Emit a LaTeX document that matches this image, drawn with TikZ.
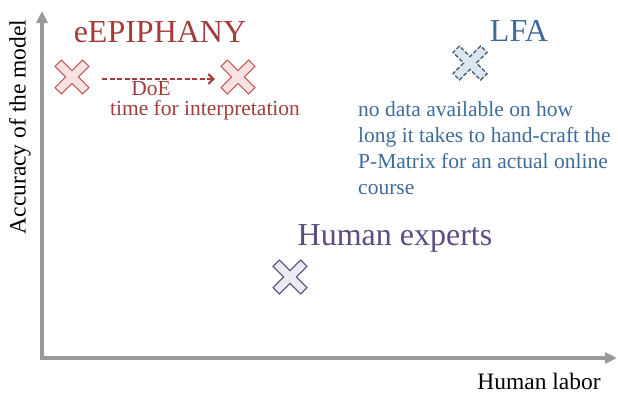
\documentclass[tikz,border=0pt]{standalone}
\usepackage{fontspec}
\setmainfont{Liberation Serif}
\usetikzlibrary{arrows.meta}

\definecolor{axisgray}{HTML}{999999}
\definecolor{epired}{HTML}{A33D3D}
\definecolor{epiline}{HTML}{C25A5A}
\definecolor{epifill}{HTML}{FBE1E1}
\definecolor{lfablue}{HTML}{3F6B9C}
\definecolor{lfaline}{HTML}{48647F}
\definecolor{lfafill}{HTML}{DCE6F1}
\definecolor{humpurple}{HTML}{5E4B80}
\definecolor{humline}{HTML}{57477A}
\definecolor{humfill}{HTML}{EEEAF4}

\tikzset{
  crossmark/.pic={
    \path[pic actions,rotate=45]
      (4.5,4.5) -- (19.5,4.5) -- (19.5,-4.5) -- (4.5,-4.5) -- (4.5,-19.5)
      -- (-4.5,-19.5) -- (-4.5,-4.5) -- (-19.5,-4.5) -- (-19.5,4.5)
      -- (-4.5,4.5) -- (-4.5,19.5) -- (4.5,19.5) -- cycle;
  },
  axis/.style={draw=axisgray,line width=3.2pt},
  doe/.style={draw=epired,line width=1.8pt,dash pattern=on 5pt off 2.5pt},
  big/.style={font=\fontsize{32}{38}\selectfont},
  mid/.style={font=\fontsize{21.5}{26}\selectfont},
  axlabel/.style={font=\fontsize{23.5}{28}\selectfont}
}

\begin{document}
\begin{tikzpicture}[x=1pt,y=-1pt]
  \useasboundingbox (0,0) rectangle (618,394);

  % axes
  \coordinate (ytop) at (42,11);
  \coordinate (xend) at (617,358);
  \draw[axis,{Triangle[length=12pt,width=11pt]}-{Triangle[length=12pt,width=11pt]}] (ytop) |- (xend);
  \node[axlabel,rotate=90] (acc) at (20,127) {Accuracy of the model};
  \node[axlabel] (labor) at (539,381) {Human labor};

  % cross positions
  \begin{scope}[every node/.style={minimum size=34pt,inner sep=0pt}]
    \node (e1) at (72,77)   {};
    \node (e2) at (238,77)  {};
    \node (l1) at (470,63)  {};
    \node (h1) at (290,277) {};
  \end{scope}

  \pic[draw=epiline,fill=epifill,line width=1pt] at (e1) {crossmark};
  \pic[draw=epiline,fill=epifill,line width=1pt] at (e2) {crossmark};
  \pic[draw=lfaline,fill=lfafill,line width=1.3pt,dash pattern=on 4pt off 2pt] at (l1) {crossmark};
  \pic[draw=humline,fill=humfill,line width=1pt] at (h1) {crossmark};

  \begin{scope}[text=epired]
    \node[big] (epi) at (160,32) {eEPIPHANY};
    \draw[doe,-{Straight Barb[length=5pt,width=10pt,line width=2pt]}]
      ([xshift=13pt,yshift=-2pt]e1.east) -- ([xshift=-6pt,yshift=-2pt]e2.west);
    \node[mid,anchor=base,inner sep=0pt] (doelbl) at (151,95) {DoE};
    \node[mid,anchor=base,inner sep=0pt] (timelbl) at (205,115) {time for interpretation};
  \end{scope}

  \begin{scope}[text=lfablue]
    \node[big] (lfa) at (519,31) {LFA};
    \node[mid,anchor=north west,align=left,inner sep=0pt] (nodata) at (358,101)
      {no data available on how\\long it takes to hand-craft the\\P-Matrix for an actual online\\course};
  \end{scope}

  \node[big,text=humpurple] (hum) at (395,238) {Human experts};

\end{tikzpicture}
\end{document}
